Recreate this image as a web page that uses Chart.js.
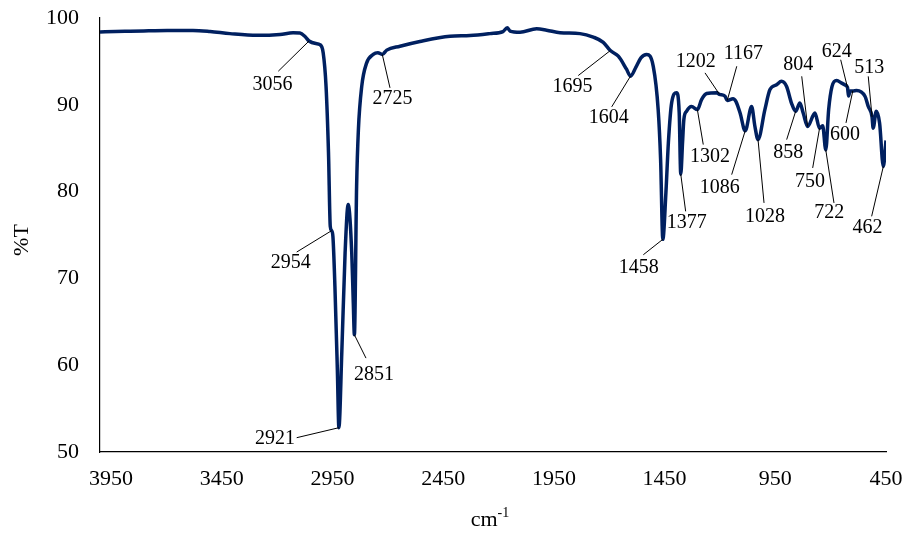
<!DOCTYPE html>
<html>
<head>
<meta charset="utf-8">
<script src="https://cdn.jsdelivr.net/npm/chart.js@4/dist/chart.umd.min.js"></script>
<style>
  html, body { margin: 0; padding: 0; background: #ffffff; }
  #wrap { width: 912px; height: 534px; position: relative; }
</style>
</head>
<body>
<div id="wrap"><canvas id="ir"></canvas></div>
<script>
// FT-IR spectrum: wavenumber (cm-1) and transmittance (%T)
const wavenumbers = [
  4000, 3930, 3864, 3780, 3697, 3580, 3503, 3413, 3291, 3187, 3128, 3097, 3074, 3056, 3025, 3007,
  2992, 2979, 2968, 2960, 2954, 2948, 2939, 2928, 2921, 2908, 2893, 2879, 2863, 2856, 2851, 2841,
  2833, 2818, 2796, 2766, 2745, 2725, 2705, 2645, 2555, 2419, 2329, 2239, 2180, 2161, 2148, 2103,
  2028, 1983, 1922, 1832, 1772, 1727, 1695, 1659, 1622, 1604, 1580, 1557, 1531, 1501, 1479, 1468,
  1458, 1444, 1433, 1418, 1396, 1384, 1377, 1369, 1363, 1351, 1328, 1302, 1283, 1260, 1215, 1202,
  1177, 1167, 1141, 1128, 1109, 1086, 1057, 1042, 1028, 997, 974, 944, 922, 899, 877, 858,
  839, 824, 804, 771, 750, 736, 722, 709, 694, 673, 650, 636, 624, 619, 612, 600,
  583, 545, 530, 513, 508, 494, 479, 462, 450
];
const transmittance = [
  98.40, 98.45, 98.48, 98.52, 98.56, 98.56, 98.44, 98.20, 98.00, 98.10, 98.30, 98.27, 97.87, 97.35, 97.06, 96.94,
  96.00, 92.10, 84.50, 76.00, 75.50, 74.80, 69.10, 59.50, 52.80, 61.40, 72.95, 78.50, 72.95, 67.20, 63.50, 80.60,
  87.10, 92.10, 94.80, 95.80, 96.00, 95.80, 96.30, 96.75, 97.30, 97.90, 97.98, 98.20, 98.44, 98.87, 98.50, 98.36,
  98.75, 98.60, 98.30, 98.20, 97.80, 97.20, 96.25, 95.60, 94.10, 93.30, 94.30, 95.40, 95.80, 94.40, 89.45, 83.70,
  74.50, 79.90, 85.60, 90.25, 91.40, 89.10, 82.00, 85.60, 88.30, 89.25, 89.80, 89.45, 90.60, 91.30, 91.40, 91.20,
  90.98, 90.50, 90.70, 90.40, 89.05, 87.00, 89.80, 87.50, 86.00, 89.45, 91.75, 92.30, 92.70, 92.10, 90.20, 89.25,
  90.20, 89.05, 87.50, 89.05, 87.30, 87.60, 84.80, 89.45, 92.10, 92.80, 92.50, 92.30, 92.00, 91.00, 91.60, 91.60,
  91.65, 90.98, 89.80, 88.60, 87.30, 89.25, 87.90, 82.90, 85.90
];

const xTicks = [3950, 3450, 2950, 2450, 1950, 1450, 950, 450];
const yTicks = [50, 60, 70, 80, 90, 100];

// Assigned band positions (cm-1)
const peakLabels = [3056, 2954, 2921, 2851, 2725, 1695, 1604, 1458, 1377, 1302, 1202,
                    1167, 1086, 1028, 858, 804, 750, 722, 624, 600, 513, 462];

// Placement of each band label: text centre (dx, dy) and leader start (dx, dy), px from the band point
const labelOffsets = [
  [-36.5, 43.5, -30.7, 30.2],
  [-40.8, 32.4, -34.9, 21.4],
  [-63.9, 10.6, -42.2, 10.0],
  [19.6, 40.0, 11.6, 23.3],
  [10.2, 44.1, 7.7, 33.4],
  [-37.9, 35.7, -32.1, 25.0],
  [-21.7, 41.7, -18.8, 30.7],
  [-24.0, 28.7, -19.5, 15.4],
  [5.9, 48.7, 4.9, 37.1],
  [12.6, 46.7, 5.9, 35.0],
  [-23.7, -33.1, -14.5, -21.5],
  [16.1, -46.6, 9.5, -34.2],
  [-25.5, 57.1, -13.5, 43.8],
  [7.0, 76.8, 6.0, 63.4],
  [-7.4, 41.6, -9.0, 28.3],
  [-9.3, -61.9, -5.9, -50.2],
  [-9.6, 53.1, -6.9, 39.7],
  [3.4, 63.0, 8.2, 53.0],
  [-10.8, -36.0, -6.8, -27.7],
  [-7.8, 43.7, -6.8, 32.0],
  [-2.9, -49.0, -3.8, -40.6],
  [-15.9, 61.5, -11.7, 49.9]
];

const SERIF = '"Liberation Serif", "Times New Roman", serif';
const LINE_COLOR = '#002060';

// %T at a given wavenumber, linear between recorded points
function valueAt(wn) {
  for (let i = 0; i < wavenumbers.length - 1; i++) {
    const a = wavenumbers[i], b = wavenumbers[i + 1];
    if (wn <= a && wn >= b) {
      const t = a === b ? 0 : (a - wn) / (a - b);
      return transmittance[i] + t * (transmittance[i + 1] - transmittance[i]);
    }
  }
  return transmittance[transmittance.length - 1];
}

const bandNotes = {
  id: 'bandNotes',
  afterDatasetsDraw(chart) {
    const { ctx, scales: { x, y } } = chart;
    ctx.save();
    ctx.strokeStyle = '#000';
    ctx.fillStyle = '#000';
    ctx.lineWidth = 1;
    ctx.font = '20px ' + SERIF;
    ctx.textAlign = 'center';
    ctx.textBaseline = 'middle';
    peakLabels.forEach((wn, i) => {
      const px = x.getPixelForValue(wn);
      const py = y.getPixelForValue(valueAt(wn));
      const [tx, ty, sx, sy] = labelOffsets[i];
      ctx.beginPath();
      ctx.moveTo(px + sx, py + sy);
      ctx.lineTo(px, py);
      ctx.stroke();
      ctx.fillText(String(wn), px + tx, py + ty);
    });

    // y axis title
    ctx.save();
    ctx.font = '22px ' + SERIF;
    ctx.translate(22, 240);
    ctx.rotate(-Math.PI / 2);
    ctx.fillText('%T', 0, 0);
    ctx.restore();

    // x axis title: cm with superscript -1
    const cx = 490;
    const base = 526;
    ctx.textAlign = 'left';
    ctx.textBaseline = 'alphabetic';
    ctx.font = '22px ' + SERIF;
    const wMain = ctx.measureText('cm').width;
    ctx.font = '14px ' + SERIF;
    const wSup = ctx.measureText('-1').width;
    const start = cx - (wMain + wSup) / 2;
    ctx.font = '22px ' + SERIF;
    ctx.fillText('cm', start, base);
    ctx.font = '14px ' + SERIF;
    ctx.fillText('-1', start + wMain, base - 9);
    ctx.restore();
  }
};

const points = wavenumbers.map((w, i) => ({ x: w, y: transmittance[i] }));

new Chart(document.getElementById('ir'), {
  type: 'line',
  data: {
    datasets: [{
      data: points,
      borderColor: LINE_COLOR,
      borderWidth: 3.5,
      pointRadius: 0,
      fill: false,
      cubicInterpolationMode: 'monotone'
    }]
  },
  options: {
    responsive: true,
    maintainAspectRatio: false,
    animation: false,
    events: [],
    layout: { padding: { top: 18, right: 26, left: 0, bottom: 0 } },
    plugins: { legend: { display: false }, tooltip: { enabled: false } },
    scales: {
      x: {
        type: 'linear',
        reverse: true,
        min: 450,
        max: 4000,
        grid: { display: false, drawTicks: false },
        border: { display: true, color: '#000', width: 1.2 },
        afterBuildTicks(scale) { scale.ticks = xTicks.map(v => ({ value: v })); },
        afterFit(scale) {
          scale.height = 82;
          scale.paddingLeft = 0;
          scale.paddingRight = 0;
        },
        ticks: {
          color: '#000',
          font: { family: SERIF, size: 22 },
          padding: 14,
          maxRotation: 0,
          autoSkip: false,
          callback: v => String(v)
        }
      },
      y: {
        type: 'linear',
        min: 50,
        max: 100,
        grid: { display: false, drawTicks: false },
        border: { display: true, color: '#000', width: 1.2 },
        afterBuildTicks(scale) { scale.ticks = yTicks.map(v => ({ value: v })); },
        afterFit(scale) {
          scale.width = 100;
          scale.paddingTop = 0;
          scale.paddingBottom = 0;
        },
        ticks: {
          color: '#000',
          font: { family: SERIF, size: 22 },
          padding: 21,
          callback: v => String(v)
        }
      }
    }
  },
  plugins: [bandNotes]
});
</script>
</body>
</html>
